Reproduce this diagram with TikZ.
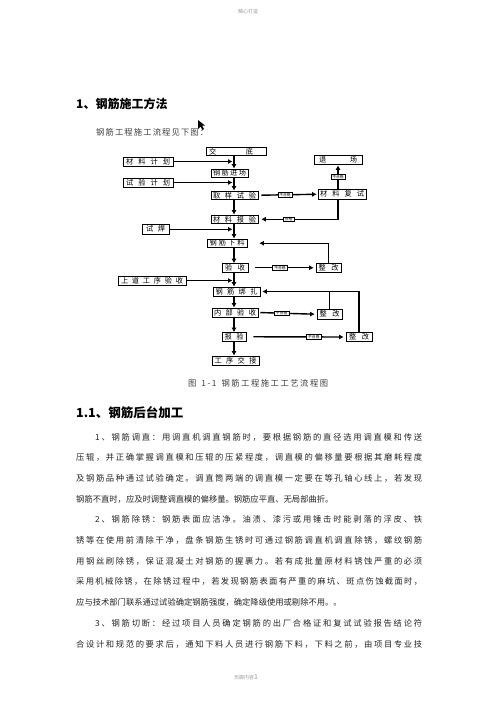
\documentclass[tikz,border=0pt]{standalone}
\usepackage{fontspec}
\setmainfont{Noto Sans CJK SC}
\usetikzlibrary{arrows.meta}
\makeatletter
\def\sprd@end{\sprd@end}
\def\sprd@go#1{\ifx#1\sprd@end\else\hfil#1\expandafter\sprd@go\fi}
\def\sprd@first#1{#1\sprd@go}
\newcommand\jfill[2]{\hbox to #1pt{\sprd@first#2\sprd@end}}
\makeatother
\begin{document}
\begin{tikzpicture}[x=1pt,y=-1pt,
  fbox/.style={draw, line width=0.6pt, inner sep=0pt, font=\fontsize{7.2}{8}\selectfont, text=black},
  tag/.style={draw, line width=0.4pt, fill=white, inner xsep=1.6pt, inner ysep=0.6pt, font=\fontsize{3.8}{4.2}\selectfont},
  mainarr/.style={line width=1.8pt, -{Latex[length=4.5pt,width=5pt]}},
  sidearr/.style={line width=1.4pt, line join=miter, -{Latex[length=4.5pt,width=5pt]}},
  plainline/.style={line width=1.4pt, line join=miter},
  body/.style={anchor=west, inner sep=0pt, font=\fontsize{8.3}{9}\selectfont, text=black!85},
  bighead/.style={anchor=west, inner sep=0pt, text=black},
  faint/.style={inner sep=0pt, text=black!40}
]
\useasboundingbox (0,0) rectangle (496,702);
\fill[white] (0,0) rectangle (496,702);

% header / footer
\node[faint, font=\fontsize{5}{6}\selectfont] (hdr) at (248,12) {精心打造};
\node[faint, font=\fontsize{5}{6}\selectfont] (ftr) at (246,677) {页脚内容\fontsize{7}{8}\selectfont 1};

% headings
\node[bighead, font=\fontsize{12}{14}\selectfont\bfseries] (t1) at (76,104) {1、钢筋施工方法};
\node[body, text=black!75] (intro) at (96,132) {\jfill{112}{钢筋工程施工流程见下图：}};
\fill[black] (198,120) -- (198,129) -- (200.5,126.5) -- (202.5,130) -- (204,129) -- (202,125.5) -- (205,125.5) -- cycle;

% flowchart boxes
\coordinate (mx) at (234,0);
\node[fbox, minimum width=60pt, minimum height=8.5pt] (jd) at (236,151.25) {\jfill{44}{交\hfil 底}\kern10pt};
\node[fbox, minimum width=50pt, minimum height=9pt] (jhjh) at (148,161.5) {\jfill{44}{材料计划}};
\node[fbox, minimum width=37pt, minimum height=8.5pt] (gjjc) at (229.5,173.25) {\jfill{33}{钢筋进场}};
\node[fbox, minimum width=50pt, minimum height=9pt] (syjh) at (148,182.5) {\jfill{44}{试验计划}};
\node[fbox, minimum width=47pt, minimum height=8.5pt] (qysy) at (234.5,195.25) {\jfill{43}{取样试验}};
\node[fbox, minimum width=47pt, minimum height=8.5pt] (clby) at (234.5,219.25) {\jfill{43}{材料报验}};
\node[fbox, minimum width=27pt, minimum height=9.5pt] (sh) at (155.5,229.25) {\jfill{19}{试焊}};
\node[fbox, minimum width=40pt, minimum height=8.5pt] (gjxl) at (227,243.25) {\jfill{35}{钢筋下料}};
\node[fbox, minimum width=26pt, minimum height=8.5pt] (ys) at (235,267.75) {\jfill{20}{验收}};
\node[fbox, minimum width=68pt, minimum height=9pt] (sdgx) at (152,280.5) {\jfill{62}{上道工序验收}};
\node[fbox, minimum width=47pt, minimum height=9pt] (gjbz) at (236.5,291.5) {\jfill{42}{钢筋绑扎}};
\node[fbox, minimum width=46pt, minimum height=9pt] (nbys) at (235,312.5) {\jfill{42}{内部验收}};
\node[fbox, minimum width=24pt, minimum height=8.5pt] (by) at (234,336.75) {\jfill{19}{报验}};
\node[fbox, minimum width=47pt, minimum height=9pt] (gxjj) at (235.5,360.5) {\jfill{42}{工序交接}};
\node[fbox, minimum width=48pt, minimum height=9pt] (tc) at (338,159.5) {\jfill{38}{退\hfil 场}};
\node[fbox, minimum width=48pt, minimum height=9.5pt] (clfs) at (342,194.25) {\jfill{44}{材料复试}};
\node[fbox, minimum width=25pt, minimum height=8.5pt] (zg1) at (328.5,267.75) {\jfill{20}{整改}};
\node[fbox, minimum width=25pt, minimum height=9.5pt] (zg2) at (329.5,314.25) {\jfill{20}{整改}};
\node[fbox, minimum width=26pt, minimum height=9pt] (zg3) at (359,337) {\jfill{20}{整改}};

% main column
\draw[mainarr] (jd.south -| mx) -- (gjjc.north -| mx);
\draw[mainarr] (gjjc.south -| mx) -- (qysy.north -| mx);
\draw[mainarr] (qysy.south -| mx) -- (clby.north -| mx);
\draw[mainarr] (clby.south -| mx) -- (gjxl.north -| mx);
\draw[mainarr] (gjxl.south -| mx) -- (ys.north -| mx);
\draw[mainarr] (ys.south -| mx) -- (gjbz.north -| mx);
\draw[mainarr] (gjbz.south -| mx) -- (nbys.north -| mx);
\draw[mainarr] (nbys.south -| mx) -- (by.north -| mx);
\draw[mainarr] (by.south -| mx) -- (gxjj.north -| mx);

% side inputs
\draw[sidearr, shorten >=1.5pt] (jhjh.east) -- (jhjh.east -| mx);
\draw[sidearr, shorten >=1.5pt] (syjh.east) -- (syjh.east -| mx);
\draw[sidearr, shorten >=1.5pt] (sh.east) -- (sh.east -| mx);
\draw[sidearr, shorten >=1.5pt] (sdgx.east) -- (sdgx.east -| mx);

% test branch
\draw[sidearr, shorten <=3pt, shorten >=1pt] (qysy.east) -- (clfs.west) node[tag, pos=0.45] {不合格};
\draw[sidearr, shorten >=1pt] (clfs.north -| tc.south) -- (tc.south) node[tag, midway] {不合格};
\draw[sidearr, shorten >=3pt] (clfs.south -| tc.south) |- (clby.east) node[tag, pos=0.81] {合格};

% inspection branches
\draw[sidearr, shorten <=7pt, shorten >=2pt] (ys.east) -- (zg1.west) node[tag, pos=0.47] {不合格};
\draw[sidearr, shorten >=12pt] (zg1.north) |- (gjxl.east);
\draw[sidearr, shorten <=2pt, shorten >=2pt] (nbys.east) -- (zg2.west) node[tag, pos=0.4] {不合格};
\draw[sidearr, shorten >=2pt] (zg2.north) |- (gjbz.east);
\draw[plainline] (zg3.north) -- (zg3.north |- gjbz.east) -- (zg2.north |- gjbz.east);
\draw[sidearr, shorten <=7pt, shorten >=2pt] (by.east) -- (zg3.west) node[tag, pos=0.68] {不合格};

% caption and section
\node[body, text=black!75] (cap) at (188,383) {\jfill{140}{图~1-1~钢筋工程施工工艺流程图}};
\node[bighead, font=\fontsize{12.5}{14}\selectfont\bfseries] (t2) at (76,413) {1.1、钢筋后台加工};

% body text
\node[body] (l1) at (95,437) {\jfill{327}{1、钢筋调直：用调直机调直钢筋时，要根据钢筋的直径选用调直模和传送}};
\node[body] (l2) at (76,457.7) {\jfill{346}{压辊，并正确掌握调直模和压辊的压紧程度，调直模的偏移量要根据其磨耗程度}};
\node[body] (l3) at (76,478.4) {\jfill{346}{及钢筋品种通过试验确定。调直筒两端的调直模一定要在等孔轴心线上，若发现}};
\node[body] (l4) at (76,499.1) {\jfill{232}{钢筋不直时，应及时调整调直模的偏移量。钢筋应平直、无局部曲折。}};
\node[body] (l5) at (95,519.8) {\jfill{327}{2、钢筋除锈：钢筋表面应洁净。油渍、漆污或用锤击时能剥落的浮皮、铁}};
\node[body] (l6) at (76,540.5) {\jfill{346}{锈等在使用前清除干净，盘条钢筋生锈时可通过钢筋调直机调直除锈，螺纹钢筋}};
\node[body] (l7) at (76,561.2) {\jfill{346}{用钢丝刷除锈，保证混凝土对钢筋的握裹力。若有成批量原材料锈蚀严重的必须}};
\node[body] (l8) at (76,581.9) {\jfill{346}{采用机械除锈，在除锈过程中，若发现钢筋表面有严重的麻坑、斑点伤蚀截面时，}};
\node[body] (l9) at (76,602.6) {\jfill{232}{应与技术部门联系通过试验确定钢筋强度，确定降级使用或剔除不用。。}};
\node[body] (l10) at (95,623.3) {\jfill{327}{3、钢筋切断：经过项目人员确定钢筋的出厂合格证和复试试验报告结论符}};
\node[body] (l11) at (76,644) {\jfill{346}{合设计和规范的要求后，通知下料人员进行钢筋下料，下料之前，由项目专业技}};
\end{tikzpicture}
\end{document}
